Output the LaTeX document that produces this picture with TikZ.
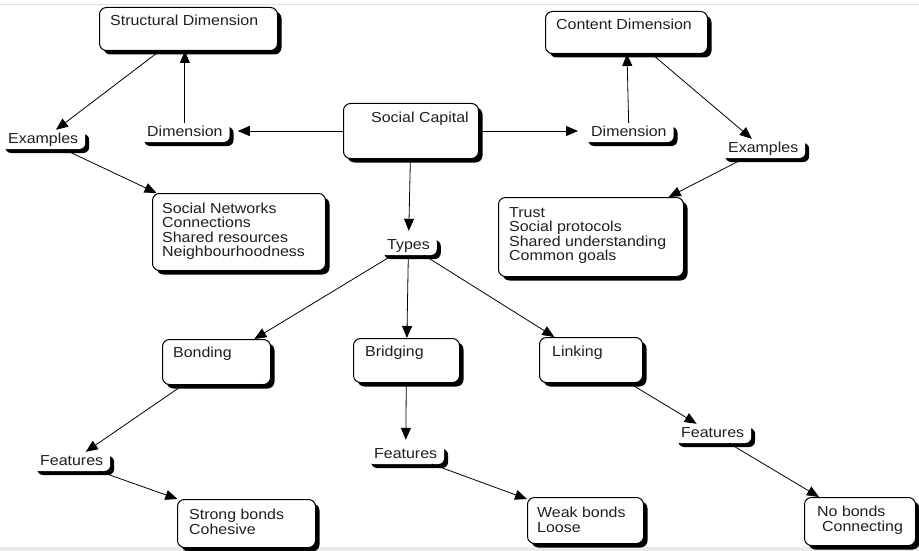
\documentclass[tikz,border=0pt]{standalone}
\usepackage{fontspec}
\setmainfont{Liberation Sans}[FakeStretch=1.1]
\usetikzlibrary{arrows.meta,shadows,calc}

\tikzset{
  dropsh/.style={drop shadow={shadow xshift=4pt, shadow yshift=-4pt, fill=black, opacity=1}},
  conceptbox/.style={draw=black, line width=1pt, fill=white, rounded corners=7pt,
    dropsh, inner sep=0pt, anchor=north west},
  tagbox/.style={fill=white, rounded corners=6pt, dropsh, inner xsep=7pt, inner ysep=2pt,
    text height=11pt, text depth=4pt, anchor=base west, font=\mapfont, text=black!88},
  % base west of a multi-line text is the baseline of its last line
  boxtext/.style={anchor=base west, inner sep=0pt, align=left, font=\mapfont, text=black!88},
  link/.style={-{Triangle[length=12pt,width=10pt]}, line width=0.8pt, black},
}
\newcommand{\mapfont}{\fontsize{14.5}{14.5}\selectfont}

\begin{document}
\begin{tikzpicture}[x=1pt, y=-1pt]
  % page
  \fill[white] (0,0) rectangle (919,551);
  \useasboundingbox (0,0) rectangle (919,551);
  \draw[black!12, line width=0.8pt] (0,4) -- (919,4);
  \fill[black!8] (0,547) rectangle (919,551);

  % boxes with a title or a list
  \node[conceptbox, minimum width=178pt, minimum height=43pt] (sd) at (99,7) {};
  \node[boxtext] (sd-t) at (110,26) {Structural Dimension};

  \node[conceptbox, minimum width=162pt, minimum height=42pt] (cd) at (545,11) {};
  \node[boxtext] (cd-t) at (556,30) {Content Dimension};

  \node[conceptbox, minimum width=135pt, minimum height=55pt] (sc) at (343,103) {};
  \node[boxtext] (sc-t) at (371,122) {Social Capital};

  \node[conceptbox, minimum width=173pt, minimum height=77pt] (sn) at (152,193) {};
  \node[boxtext] (sn-t) at (162,256.5) {Social Networks\\Connections\\Shared resources\\Neighbourhoodness};

  \node[conceptbox, minimum width=185pt, minimum height=79pt] (tr) at (498,197) {};
  \node[boxtext] (tr-t) at (509,260.5) {Trust\\Social protocols\\Shared understanding\\Common goals};

  \node[conceptbox, minimum width=108pt, minimum height=45pt] (bo) at (162,339) {};
  \node[boxtext] (bo-t) at (173,357) {Bonding};

  \node[conceptbox, minimum width=106pt, minimum height=44pt] (br) at (353,338) {};
  \node[boxtext] (br-t) at (365,356) {Bridging};

  \node[conceptbox, minimum width=103pt, minimum height=45pt] (li) at (539,337) {};
  \node[boxtext] (li-t) at (552,356) {Linking};

  \node[conceptbox, minimum width=138pt, minimum height=48pt] (sb) at (177,499) {};
  \node[boxtext] (sb-t) at (189,534) {Strong bonds\\Cohesive};

  \node[conceptbox, minimum width=116pt, minimum height=46pt] (wb) at (527,497) {};
  \node[boxtext] (wb-t) at (537,532) {Weak bonds\\Loose};

  \node[conceptbox, minimum width=111pt, minimum height=48pt] (nb) at (804,497) {};
  \node[boxtext] (nb-t) at (817,531) {No bonds\\\hspace*{5pt}Connecting};

  % linking phrases
  \node[tagbox] (dl) at (140,136) {Dimension};
  \node[tagbox] (dr) at (584,136) {Dimension};
  \node[tagbox] (exl) at (1,143) {Examples};
  \node[tagbox] (exr) at (721,152) {Examples};
  \node[tagbox] (ty) at (380,249) {Types};
  \node[tagbox] (fl) at (33,465) {Features};
  \node[tagbox] (fm) at (367,458) {Features};
  \node[tagbox] (fr) at (674,437) {Features};

  % connectors
  \draw[link] (sc.west) -- ([xshift=8pt]sc.west -| dl.east);
  \draw[link] (dl.north) -- (dl.north |- sd.south);
  \draw[link] (sd) -- (exl);
  \draw[link] (exl) -- (sn);

  \draw[link, shorten >=6pt] (sc.east) -- (sc.east -| dr.west);
  \draw[link] (dr) -- (cd);
  \draw[link] (cd) -- (exr);
  \draw[link] (exr) -- (tr);

  \draw[link, shorten >=5pt] (sc) -- (ty);
  \draw[link] (ty) -- (bo);
  \draw[link] (ty) -- (br);
  \draw[link] (ty) -- (li);

  \draw[link] (bo) -- (fl);
  \draw[link, shorten >=5pt] (br) -- (fm);
  \draw[link] (li) -- (fr);

  \draw[link] (fl) -- (sb);
  \draw[link] (fm) -- (wb);
  \draw[link] (fr) -- (nb);
\end{tikzpicture}
\end{document}
